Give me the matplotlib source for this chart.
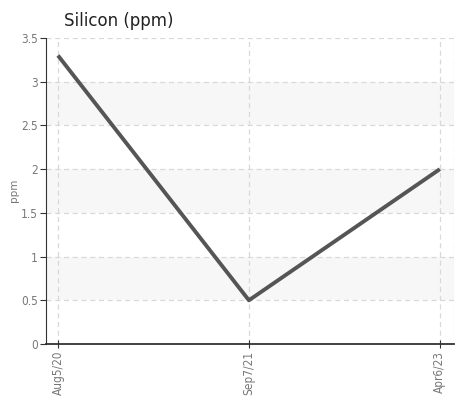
import matplotlib
matplotlib.use('Agg')
import matplotlib.pyplot as plt
import numpy as np

dates = ['Aug5/20', 'Sep7/21', 'Apr6/23']
silicon = [3.3, 0.5, 2.0]
y_ticks = [0, 0.5, 1, 1.5, 2, 2.5, 3, 3.5]
y_labels = ['0', '0.5', '1', '1.5', '2', '2.5', '3', '3.5']

fig = plt.figure(figsize=(4.64, 4.0), dpi=100)
ax = fig.add_axes([0.099, 0.14, 0.879, 0.765])

x = np.arange(len(dates))
ax.set_xlim(-0.063, 2.073)
ax.set_ylim(0, 3.5)

# light bands between alternate grid lines
for lo in (0.5, 1.5, 2.5):
    ax.axhspan(lo, lo + 0.5, color='#f7f7f7', zorder=0, lw=0)

for yv in y_ticks[1:]:
    ax.axhline(yv, color='#d8d8d8', lw=0.9, ls=(0, (4, 3)), zorder=1)
for xv in list(x) + [2.073]:
    ax.axvline(xv, color='#d8d8d8', lw=0.9, ls=(0, (4, 3)), zorder=1)

ax.plot(x, silicon, color='#555555', lw=2.8, zorder=3, solid_capstyle='butt')

ax.set_yticks(y_ticks)
ax.set_yticklabels(y_labels, fontstretch='condensed')
ax.set_xticks(x)
ax.set_xticklabels(dates, rotation=90, fontstretch='condensed')

for s in ('top', 'right'):
    ax.spines[s].set_visible(False)
ax.spines['left'].set_color('#333333')
ax.spines['bottom'].set_color('#333333')
ax.spines['bottom'].set_linewidth(1.3)

ax.tick_params(axis='y', direction='out', length=4, color='#333333',
               labelcolor='#777777', labelsize=8.5, pad=2)
ax.tick_params(axis='x', direction='inout', length=6, color='#333333',
               labelcolor='#777777', labelsize=8.5, pad=2)

fig.text(14 / 464, 1 - 190 / 400, 'ppm', fontsize=7.5, color='#777777',
         rotation=90, ha='center', va='center')
fig.text(0.138, 0.948, 'Silicon (ppm)', fontsize=12, color='#222222', ha='left', va='center')

fig.savefig('out.png', dpi=100)
